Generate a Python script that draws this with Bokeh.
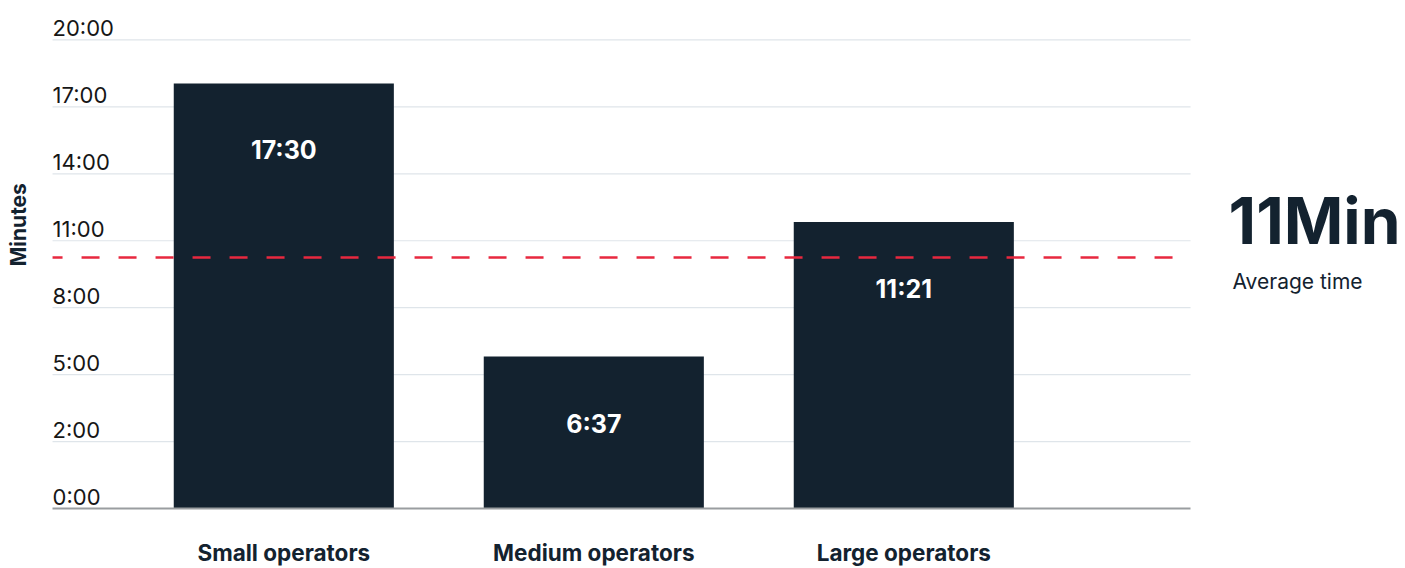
import math
from bokeh.plotting import figure
from bokeh.models import Range1d, FixedTicker
from bokeh.core.properties import value
from bokeh.embed import file_html
from bokeh.resources import INLINE

# ---------------- data ----------------
categories = ["Small operators", "Medium operators", "Large operators"]
# bar heights measured in gridline steps (each step is one labelled tick)
bar_values = [6.35, 2.27, 4.28]
bar_labels = ["17:30", "6:37", "11:21"]
average_value = 3.75
average_text = "11Min"
average_caption = "Average time"
tick_positions = [0, 1, 2, 3, 4, 5, 6, 7]
tick_labels = ["0:00", "2:00", "5:00", "8:00", "11:00", "14:00", "17:00", "20:00"]
y_axis_title = "Minutes"

# ---------------- layout / styles ----------------
NAVY = "#13222f"
GRID = "#dfe5ea"
RED = "#e8283f"
FONT = value("Inter")
PLOT_LEFT, PLOT_RIGHT = -0.746, 2.925      # extent of the plotting area (x units)
TITLE_Y = 4.24                             # vertical centre of the y title

x_pos = list(range(len(categories)))

p = figure(
    width=1405, height=568,
    x_range=Range1d(-0.9139, 3.6184), y_range=Range1d(0, 7.44),
    y_axis_location=None,
    min_border_left=0, min_border_right=0, min_border_top=10, min_border_bottom=60,
    toolbar_location=None, output_backend="svg",
)
p.outline_line_color = None
p.background_fill_color = "white"
p.border_fill_color = "white"
p.xgrid.visible = False
p.ygrid.visible = False

# gridlines (one per tick, except the baseline which is the axis)
n = len(tick_positions) - 1
p.segment(x0=[PLOT_LEFT] * n, x1=[PLOT_RIGHT] * n, y0=tick_positions[1:], y1=tick_positions[1:],
          line_color=GRID, line_width=1.2)

p.vbar(x=x_pos, top=bar_values, width=0.71, fill_color=NAVY, line_color=None)

# x axis
p.xaxis.bounds = (PLOT_LEFT, PLOT_RIGHT)
p.xaxis.ticker = FixedTicker(ticks=x_pos)
p.xaxis.major_label_overrides = {i: c for i, c in zip(x_pos, categories)}
p.xaxis.major_tick_line_color = None
p.xaxis.minor_tick_line_color = None
p.xaxis.major_tick_out = 0
p.xaxis.major_tick_in = 0
p.xaxis.axis_line_color = "#9a9da0"
p.xaxis.axis_line_width = 2
p.xaxis.major_label_standoff = 30
p.xaxis.major_label_text_font = "Inter"
p.xaxis.major_label_text_font_style = "bold"
p.xaxis.major_label_text_font_size = "22.5px"
p.xaxis.major_label_text_color = NAVY

# tick labels drawn above their gridlines
p.text(x=[PLOT_LEFT] * len(tick_positions), y=tick_positions, text=tick_labels,
       text_font=FONT, text_font_size="22px", text_color="#161616",
       text_align="left", text_baseline="middle", y_offset=-12)

# bar value labels
p.text(x=x_pos, y=bar_values, text=bar_labels,
       text_font=FONT, text_font_style="bold", text_font_size="25px", text_color="white",
       text_align="center", text_baseline="middle", y_offset=67)

# average line
p.segment(x0=[PLOT_LEFT], x1=[PLOT_RIGHT], y0=[average_value], y1=[average_value],
          line_color=RED, line_width=2.5, line_dash="18 19", line_dash_offset=8)

# average callout on the right
p.text(x=[PLOT_RIGHT], y=[average_value], text=[average_text], x_offset=38, y_offset=-37,
       text_font=FONT, text_font_style="bold", text_font_size="64px", text_color=NAVY,
       text_align="left", text_baseline="middle")
p.text(x=[PLOT_RIGHT], y=[average_value], text=[average_caption], x_offset=42, y_offset=24,
       text_font=FONT, text_font_size="21px", text_color=NAVY,
       text_align="left", text_baseline="middle")

# vertical axis title
p.text(x=[PLOT_LEFT], y=[TITLE_Y], text=[y_axis_title], x_offset=-34, angle=math.pi / 2,
       text_font=FONT, text_font_style="bold", text_font_size="21px", text_color=NAVY,
       text_align="center", text_baseline="middle")

open("out.html", "w").write(file_html(p, INLINE))
